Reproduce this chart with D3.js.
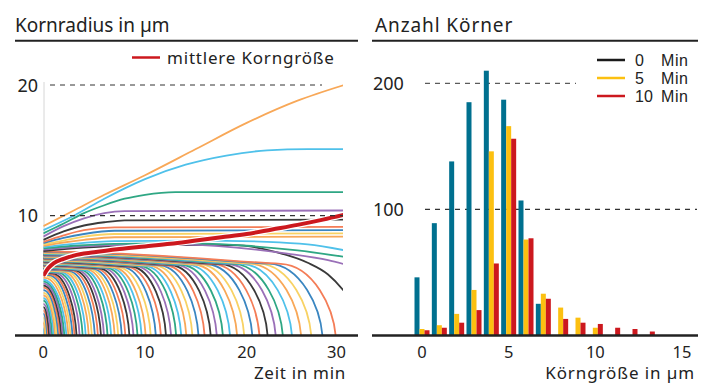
<!DOCTYPE html>
<html>
<head>
<meta charset="utf-8">
<script src="https://cdn.jsdelivr.net/npm/d3@7"></script>
<style>
  body { margin: 0; background: #fff; }
  text { font-family: "Noto Sans", "Open Sans", sans-serif; fill: #222; }
</style>
</head>
<body>
<svg id="chart" width="710" height="383"></svg>
<script>
// ---- left panel: grain radius over time ----
const timeTicks = [0, 10, 20, 30]
const radiusTicks = [10, 20]
const meanTime   = [0, 0.5, 1, 2, 3, 5, 7.5, 10, 12.5, 15, 17.5, 20, 22.5, 25, 27.5, 30]
const meanRadius = [5.4, 6.0, 6.35, 6.7, 6.95, 7.2, 7.45, 7.65, 7.85, 8.1, 8.35, 8.6, 8.95, 9.3, 9.7, 10.15]

// the grains that survive to the end (largest first), [time, radius]
const survivors = [
  [[0,9.2],[3,10.4],[6,11.6],[10,13.1],[15,15.1],[20,17.1],[25,18.8],[30,20.1]],
  [[0,8.9],[3,10.0],[6,11.3],[10,12.8],[14,13.9],[18,14.6],[22,15.0],[26,15.1],[30,15.1]],
  [[0,8.65],[2,9.4],[4,10.2],[6,10.8],[8,11.3],[10,11.6],[13,11.8],[30,11.8]],
  [[0,8.4],[2,9.2],[4,9.8],[6,10.2],[8,10.35],[30,10.4]],
  [[0,8.15],[2,8.8],[4,9.25],[6,9.5],[8,9.65],[30,9.7]],
  [[0,8.0],[2,8.5],[4,8.9],[7,9.1],[30,9.15]],
  [[0,7.9],[2,8.3],[4,8.6],[7,8.85],[30,8.9]],
  [[0,7.8],[2,8.1],[4,8.4],[7,8.6],[30,8.65]],
  [[0,7.7],[2,7.95],[4,8.15],[7,8.35],[30,8.4]],
  [[0,7.6],[3,7.85],[7,8.05],[15,8.1],[22,8.0],[26,7.8],[30,7.3]],
  [[0,7.5],[3,7.7],[7,7.85],[14,7.9],[20,7.7],[25,7.35],[30,6.8]],
  [[0,7.4],[3,7.6],[7,7.75],[13,7.8],[19,7.55],[24,7.1],[28,6.6],[30,6.2]],
  [[0,7.3],[4,7.55],[10,7.75],[18.7,7.75],[23,7.2],[26,6.4],[28,5.5],[29.5,4.3],[30,3.8]]
]

// grains that vanish: time they hit zero and their start radius
const vanishTime = [28.8, 27.5, 26.4, 25.4, 24.5, 23.6, 22.9, 22.1, 21.3, 20.6, 19.8, 19.1, 18.4, 17.7,
  17.1, 16.5, 15.9, 15.3, 14.7, 14.1, 13.6, 13.1, 12.6, 12.1, 11.6, 11.1, 10.6, 10.1, 9.7, 9.3, 8.9,
  8.5, 8.1, 7.75, 7.4, 7.05, 6.7, 6.35, 6.0, 5.7, 5.4, 5.1, 4.8, 4.5, 4.2, 3.9, 3.6, 3.3, 3.1, 2.9,
  2.7, 2.5, 2.3, 2.1, 1.95, 1.8, 1.65, 1.5, 1.35, 1.2, 1.05, 0.9, 0.75, 0.6, 0.5, 0.4, 0.3, 0.2, 0.1]
const startRadius = [7.25, 7.22, 7.18, 7.14, 7.1, 7.07, 7.03, 7.0, 6.96, 6.93, 6.9, 6.86, 6.83, 6.79,
  6.76, 6.73, 6.69, 6.66, 6.63, 6.59, 6.56, 6.53, 6.5, 6.46, 6.43, 6.4, 6.36, 6.33, 6.3, 6.27, 6.24,
  6.2, 6.17, 6.14, 6.11, 6.08, 6.04, 6.01, 5.98, 5.95, 5.92, 5.88, 5.84, 5.8, 5.76, 5.72, 5.68, 5.62, 5.55, 5.47,
  5.38, 5.25, 5.1, 4.95, 4.8, 4.65, 4.5, 4.3, 4.1, 3.9, 3.7, 3.5, 3.25, 3.0, 2.75, 2.5, 2.2, 1.85, 1.4]

const curveColors = ['#f8a858', '#4fc1ea', '#2fa784', '#9a70b8', '#3a3a3a', '#f47d57', '#3a86c1', '#f8d264']

// ---- right panel: histogram ----
const sizeBins = [0, 1, 2, 3, 4, 5, 6, 7, 8, 9, 10, 11, 12, 13]
const count0  = [46, 89, 138, 185, 210, 187, 107, 25, 0, 0, 0, 0, 0, 0]
const count5  = [5, 8, 17, 36, 146, 166, 76, 33, 22, 14, 6, 0, 0, 0]
const count10 = [4, 6, 10, 20, 57, 156, 77, 29, 13, 10, 9, 6, 5, 3]
const seriesNames = ['0', '5', '10']
const seriesColors = ['#00708f', '#fcc010', '#cc181e']
const legendColors = ['#1a1a1a', '#fcc010', '#cc181e']
const sizeTicks = [0, 5, 10, 15]
const countTicks = [100, 200]

const svg = d3.select('#chart')
const dark = '#222'

// ================= left panel =================
const xT = d3.scaleLinear().domain([0, 30]).range([43.3, 348.4])
const yR = d3.scaleLinear().domain([10, 20]).range([215.7, 85])
const axisY = 335.5

svg.append('text').attr('x', 15).attr('y', 32).style('font-size', '19px').text('Kornradius in µm')
svg.append('line').attr('x1', 15).attr('x2', 358).attr('y1', 40.8).attr('y2', 40.8)
  .attr('stroke', dark).attr('stroke-width', 2)

svg.append('line').attr('x1', 44).attr('x2', 44).attr('y1', 82).attr('y2', axisY)
  .attr('stroke', '#d6d6d6').attr('stroke-width', 1)

svg.append('clipPath').attr('id', 'clipL')
  .append('rect').attr('x', xT(0)).attr('y', 60).attr('width', 343 - xT(0)).attr('height', axisY - 60)

const plotL = svg.append('g').attr('clip-path', 'url(#clipL)')

// flat-ish start, then a rounded drop to zero at the vanishing time
const grainPath = (r0, T) => {
  const w = Math.min(T, 2 + 0.12 * T)
  const tb = T - w
  const rm = r0 - 0.04 * tb
  const p = d3.path()
  p.moveTo(xT(0), yR(r0))
  if (tb > 0) p.bezierCurveTo(xT(tb * 0.4), yR(r0), xT(tb * 0.75), yR(rm + (r0 - rm) * 0.25), xT(tb), yR(rm))
  p.bezierCurveTo(xT(T - 0.45 * w), yR(rm - (tb > 0 ? 0.1 : 0)), xT(T), yR(0.5 * rm), xT(T), yR(0))
  return p.toString()
}

// vanishing grains, smallest first so the bigger ones lie on top
const grains = vanishTime.map((t, i) => ({ t, r: startRadius[i], k: survivors.length + i }))
plotL.selectAll('path.grain')
  .data(grains.slice().reverse())
  .enter().append('path')
  .attr('class', 'grain')
  .attr('d', d => grainPath(d.r, d.t))
  .attr('fill', 'none')
  .attr('stroke', d => curveColors[d.k % 8])
  .attr('stroke-width', 1.8)

const lineTR = d3.line().x(d => xT(d[0])).y(d => yR(d[1])).curve(d3.curveMonotoneX)
plotL.selectAll('path.surv')
  .data(survivors.map((pts, k) => ({ pts, k })).reverse())
  .enter().append('path')
  .attr('class', 'surv')
  .attr('d', d => lineTR(d.pts))
  .attr('fill', 'none')
  .attr('stroke', d => curveColors[d.k % 8])
  .attr('stroke-width', 1.8)

// dashed grid lines
svg.append('line').attr('x1', 50).attr('x2', 322).attr('y1', yR(20)).attr('y2', yR(20))
  .attr('stroke', '#333').attr('stroke-dasharray', '5,5')
svg.append('line').attr('x1', 50).attr('x2', 343).attr('y1', yR(10)).attr('y2', yR(10))
  .attr('stroke', '#333').attr('stroke-width', 1.2).attr('stroke-dasharray', '5,5')

const meanPts = meanTime.map((t, i) => [t, meanRadius[i]])
plotL.append('path').attr('d', lineTR(meanPts)).attr('fill', 'none')
  .attr('stroke', '#fff').attr('stroke-width', 6.5)
plotL.append('path').attr('d', lineTR(meanPts)).attr('fill', 'none')
  .attr('stroke', '#cc181e').attr('stroke-width', 4)

svg.selectAll('text.yl')
  .data(radiusTicks).enter().append('text')
  .attr('x', 38).attr('y', d => yR(d) + 6.5)
  .attr('text-anchor', 'end').style('font-size', '18px')
  .text(d => d)

svg.append('line').attr('x1', 15).attr('x2', 358).attr('y1', axisY).attr('y2', axisY)
  .attr('stroke', dark).attr('stroke-width', 2.5)

svg.selectAll('text.xl')
  .data(timeTicks).enter().append('text')
  .attr('x', d => d === 30 ? 346 : xT(d))
  .attr('y', 358)
  .attr('text-anchor', d => d === 30 ? 'end' : 'middle')
  .style('font-size', '16.5px')
  .text(d => d)
svg.append('text').attr('x', 346).attr('y', 379).attr('text-anchor', 'end')
  .style('font-size', '17px').style('letter-spacing', '0.7px').text('Zeit in min')

// legend
svg.append('line').attr('x1', 132).attr('x2', 160).attr('y1', 57.5).attr('y2', 57.5)
  .attr('stroke', '#cc181e').attr('stroke-width', 2.5)
svg.append('text').attr('x', 167).attr('y', 64).style('font-size', '17px')
  .style('letter-spacing', '0.8px').text('mittlere Korngröße')

// ================= right panel =================
const xB = d3.scaleLinear().domain([0, 15]).range([422, 682])
const yB = d3.scaleLinear().domain([0, 200]).range([335.3, 83.3])
const xS = d3.scaleBand().domain(seriesNames).range([-7.5, 7.5])

svg.append('text').attr('x', 375).attr('y', 32).style('font-size', '19px')
  .style('letter-spacing', '0.9px').text('Anzahl Körner')
svg.append('line').attr('x1', 372).attr('x2', 698).attr('y1', 40.8).attr('y2', 40.8)
  .attr('stroke', dark).attr('stroke-width', 2)

svg.append('line').attr('x1', 425).attr('x2', 576).attr('y1', yB(200)).attr('y2', yB(200))
  .attr('stroke', '#333').attr('stroke-dasharray', '5,5')
svg.append('line').attr('x1', 425).attr('x2', 697).attr('y1', yB(100)).attr('y2', yB(100))
  .attr('stroke', '#333').attr('stroke-width', 1.2).attr('stroke-dasharray', '5,5')

const counts = [count0, count5, count10]
const barData = []
seriesNames.forEach((s, si) => {
  sizeBins.forEach((b, i) => {
    if (counts[si][i] > 0) barData.push({ s, si, b, v: counts[si][i] })
  })
})
svg.append('g').selectAll('rect')
  .data(barData).enter().append('rect')
  .attr('x', d => xB(d.b) + xS(d.s))
  .attr('width', xS.bandwidth())
  .attr('y', d => yB(d.v))
  .attr('height', d => yB(0) - yB(d.v))
  .attr('fill', d => seriesColors[d.si])

svg.selectAll('text.yb')
  .data(countTicks).enter().append('text')
  .attr('x', 373).attr('y', d => yB(d) + 6.5)
  .style('font-size', '18px')
  .text(d => d)

svg.append('line').attr('x1', 372).attr('x2', 698).attr('y1', axisY).attr('y2', axisY)
  .attr('stroke', dark).attr('stroke-width', 2.5)

svg.selectAll('text.xb')
  .data(sizeTicks).enter().append('text')
  .attr('x', d => xB(d)).attr('y', 358)
  .attr('text-anchor', 'middle').style('font-size', '16.5px')
  .text(d => d)
svg.append('text').attr('x', 695).attr('y', 379).attr('text-anchor', 'end')
  .style('font-size', '17px').style('letter-spacing', '0.9px').text('Körngröße in µm')

// legend (Liberation Sans keeps the rows from overlapping)
const leg = svg.append('g').style('font-family', '"Liberation Sans", Arial, sans-serif')
seriesNames.forEach((s, i) => {
  const ly = [60, 78, 96][i]
  leg.append('line').attr('x1', 597).attr('x2', 625).attr('y1', ly).attr('y2', ly)
    .attr('stroke', legendColors[i]).attr('stroke-width', 2.5)
  leg.append('text').attr('x', 635).attr('y', ly + 6).style('font-size', '16px')
    .style('font-family', 'inherit').text(s)
  leg.append('text').attr('x', 661).attr('y', ly + 6).style('font-size', '16px')
    .style('font-family', 'inherit').style('letter-spacing', '0.6px').text('Min')
})
</script>
</body>
</html>
